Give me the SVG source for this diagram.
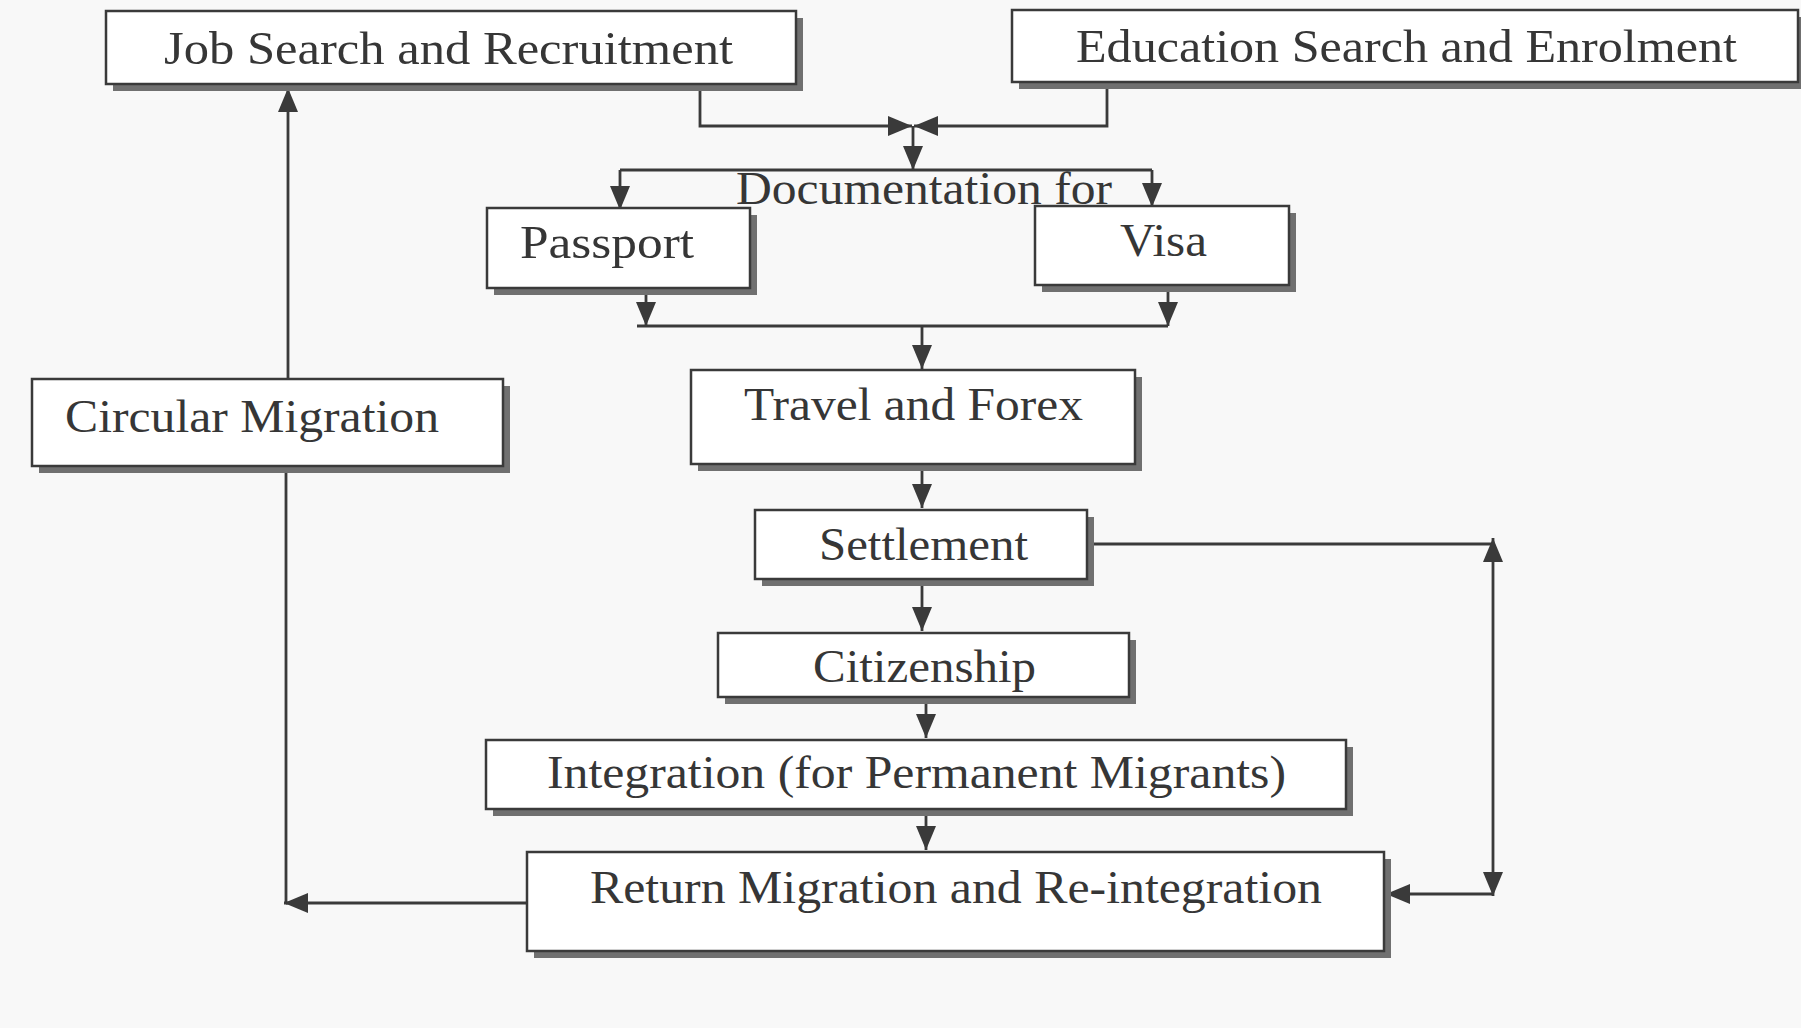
<svg xmlns="http://www.w3.org/2000/svg" width="1801" height="1028" viewBox="0 0 1801 1028">
  <defs>
    <style>
      .shadow { fill: #707070; }
      .box { fill: #ffffff; stroke: #3a3a3a; stroke-width: 2.5; }
      .label { font-family: "Liberation Serif", "Times New Roman", serif; font-size: 46px; fill: #363636; }
      .line { fill: none; stroke: #3a3a3a; stroke-width: 2.8; }
    </style>
    <marker id="arrow" viewBox="0 0 24 20" refX="24" refY="10" markerWidth="24" markerHeight="20" markerUnits="userSpaceOnUse" orient="auto">
      <path d="M0,0 L24,10 L0,20 Z" fill="#3a3a3a"/>
    </marker>
    <marker id="arrowStart" viewBox="0 0 24 20" refX="24" refY="10" markerWidth="24" markerHeight="20" markerUnits="userSpaceOnUse" orient="auto-start-reverse">
      <path d="M0,0 L24,10 L0,20 Z" fill="#3a3a3a"/>
    </marker>
  </defs>

  <rect width="1801" height="1028" fill="#f8f8f8"/>

  <!-- connectors -->
  <g id="connectors">
    <path class="line" d="M700,84 V126 H912" marker-end="url(#arrow)"/>
    <path class="line" d="M1107,82 V126 H914" marker-end="url(#arrow)"/>
    <path class="line" d="M913,126 V170" marker-end="url(#arrow)"/>
    <path class="line" d="M620,170 H1152"/>
    <path class="line" d="M620,170 V210" marker-end="url(#arrow)"/>
    <path class="line" d="M1152,170 V207" marker-end="url(#arrow)"/>
    <path class="line" d="M646,288 V326" marker-end="url(#arrow)"/>
    <path class="line" d="M1168,285 V326" marker-end="url(#arrow)"/>
    <path class="line" d="M637,326 H1168"/>
    <path class="line" d="M922,326 V369" marker-end="url(#arrow)"/>
    <path class="line" d="M922,464 V508" marker-end="url(#arrow)"/>
    <path class="line" d="M922,579 V631" marker-end="url(#arrow)"/>
    <path class="line" d="M926,697 V738" marker-end="url(#arrow)"/>
    <path class="line" d="M926,809 V850" marker-end="url(#arrow)"/>
    <path class="line" d="M1087,544 H1493"/>
    <path class="line" d="M1493,538 V896" marker-start="url(#arrowStart)" marker-end="url(#arrow)"/>
    <path class="line" d="M1493,894 H1386" marker-end="url(#arrow)"/>
    <path class="line" d="M527,903 H286"/>
    <path class="line" d="M286,466 V903 H284" marker-end="url(#arrow)"/>
    <path class="line" d="M288,379 V88" marker-end="url(#arrow)"/>
  </g>

  <g id="job-search">
    <rect class="shadow" x="113" y="18" width="690" height="73"/>
    <rect class="box" x="106" y="11" width="690" height="73"/>
    <text class="label" x="164" y="64" textLength="569" lengthAdjust="spacingAndGlyphs">Job Search and Recruitment</text>
  </g>

  <g id="education-search">
    <rect class="shadow" x="1019" y="17" width="790" height="72"/>
    <rect class="box" x="1012" y="10" width="786" height="72"/>
    <text class="label" x="1076" y="62" textLength="661" lengthAdjust="spacingAndGlyphs">Education Search and Enrolment</text>
  </g>

  <g id="documentation-label">
    <text class="label" x="736" y="204" textLength="376" lengthAdjust="spacingAndGlyphs">Documentation for</text>
  </g>

  <g id="passport">
    <rect class="shadow" x="494" y="215" width="263" height="80"/>
    <rect class="box" x="487" y="208" width="263" height="80"/>
    <text class="label" x="520" y="258" textLength="174" lengthAdjust="spacingAndGlyphs">Passport</text>
  </g>

  <g id="visa">
    <rect class="shadow" x="1042" y="213" width="254" height="79"/>
    <rect class="box" x="1035" y="206" width="254" height="79"/>
    <text class="label" x="1120" y="256" textLength="87" lengthAdjust="spacingAndGlyphs">Visa</text>
  </g>

  <g id="travel-forex">
    <rect class="shadow" x="698" y="377" width="444" height="94"/>
    <rect class="box" x="691" y="370" width="444" height="94"/>
    <text class="label" x="744" y="420" textLength="339" lengthAdjust="spacingAndGlyphs">Travel and Forex</text>
  </g>

  <g id="settlement">
    <rect class="shadow" x="762" y="517" width="332" height="69"/>
    <rect class="box" x="755" y="510" width="332" height="69"/>
    <text class="label" x="819" y="560" textLength="209" lengthAdjust="spacingAndGlyphs">Settlement</text>
  </g>

  <g id="citizenship">
    <rect class="shadow" x="725" y="640" width="411" height="64"/>
    <rect class="box" x="718" y="633" width="411" height="64"/>
    <text class="label" x="813" y="682" textLength="223" lengthAdjust="spacingAndGlyphs">Citizenship</text>
  </g>

  <g id="integration">
    <rect class="shadow" x="493" y="747" width="860" height="69"/>
    <rect class="box" x="486" y="740" width="860" height="69"/>
    <text class="label" x="547" y="788" textLength="739" lengthAdjust="spacingAndGlyphs">Integration (for Permanent Migrants)</text>
  </g>

  <g id="return-migration">
    <rect class="shadow" x="534" y="859" width="857" height="99"/>
    <rect class="box" x="527" y="852" width="857" height="99"/>
    <text class="label" x="590" y="903" textLength="732" lengthAdjust="spacingAndGlyphs">Return Migration and Re-integration</text>
  </g>

  <g id="circular-migration">
    <rect class="shadow" x="39" y="386" width="471" height="87"/>
    <rect class="box" x="32" y="379" width="471" height="87"/>
    <text class="label" x="65" y="432" textLength="374" lengthAdjust="spacingAndGlyphs">Circular Migration</text>
  </g>
</svg>
